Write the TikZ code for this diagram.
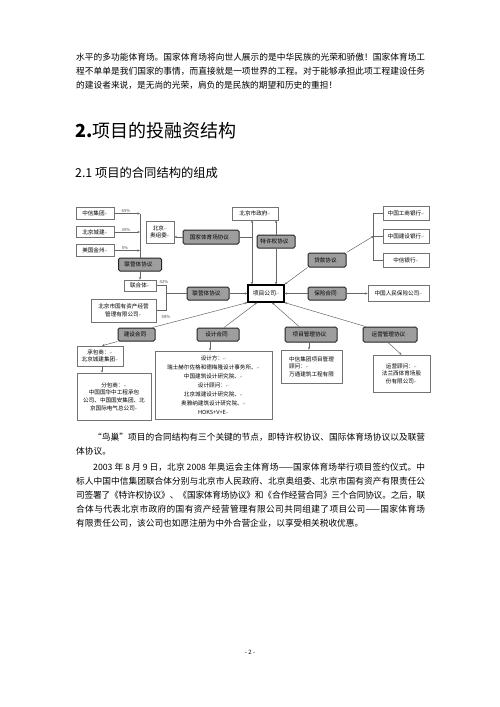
\documentclass[tikz,border=0pt]{standalone}
\usepackage{fontspec}
\setmainfont{Noto Sans CJK SC}
\newfontfamily\dvfont{DejaVu Sans}
\usetikzlibrary{arrows.meta}
\XeTeXlinebreaklocale "zh"
\XeTeXlinebreakskip=0pt plus 1.5pt minus 0.6pt
\newcommand\retmk{{\dvfont\fontsize{3.6}{4}\selectfont\color{black!45}↵}}
\newcommand\jline[2]{\parbox{#1}{\parindent=0pt\parfillskip=0pt\relax #2}}
\begin{document}
\begin{tikzpicture}[x=1pt,y=-1pt,
  wb/.style={draw=black!55, line width=0.6pt, fill=white, inner sep=0.5pt, align=center, font=\fontsize{5.6}{7.6}\selectfont},
  db/.style={draw=black!85, line width=1pt, fill=black!38, rounded corners=1.5pt, inner sep=0.5pt, font=\fontsize{5.6}{7}\selectfont},
  ln/.style={draw=black!60, line width=0.5pt},
  ar/.style={ln, -{Stealth[length=2.6pt,width=2.2pt]}},
  ar2/.style={ln, {Stealth[length=2.6pt,width=2.2pt]}-{Stealth[length=2.6pt,width=2.2pt]}},
  pc/.style={font=\fontsize{4.2}{5}\selectfont, text=black!70, inner sep=0pt},
  body/.style={anchor=west, inner sep=0pt, font=\fontsize{8.7}{10}\selectfont},
]
\useasboundingbox (0,0) rectangle (500,707);
\fill[white] (0,0) rectangle (500,707);

% ---- top paragraph
\node[body] (t1) at (76,57) {\jline{349pt}{水平的多功能体育场。国家体育场将向世人展示的是中华民族的光荣和骄傲！国家体育场工}};
\node[body] (t2) at (76,71) {\jline{349pt}{程不单单是我们国家的事情，而直接就是一项世界的工程。对于能够承担此项工程建设任务}};
\node[body] (t3) at (76,85) {的建设者来说，是无尚的光荣，肩负的是民族的期望和历史的重担！};

% ---- headings
\node[anchor=west, inner sep=0pt, font=\fontsize{18}{20}\selectfont] (h1) at (75,131) {\textbf{2.}项目的投融资结构};
\node[anchor=west, inner sep=0pt, font=\fontsize{12.3}{14}\selectfont] (h2) at (75,173) {2.1 项目的合同结构的组成};

% ---- diagram: left owners
\node[wb, minimum width=38pt, minimum height=11.5pt] (zx) at (95,213.5) {中信集团\retmk};
\node[wb, minimum width=38pt, minimum height=11.5pt] (cj) at (95,232) {北京城建\retmk};
\node[wb, minimum width=38pt, minimum height=11.5pt] (mg) at (95,250.5) {美国金州\retmk};
\coordinate (ja) at (140,213.5);
\coordinate (jb) at (140,232);
\coordinate (jc) at (140,250.5);
\node[db, minimum width=43pt, minimum height=13pt] (jv1) at (140,264.5) {联营体协议\retmk};
\draw[ar] (zx) -- (ja);
\draw[ar] (cj) -- (jb);
\draw[ar] (mg) -- (jc);
\draw[ln] (ja) -- (jv1.north);
\node[pc] (p65) at (126,211) {65\%};
\node[pc] (p30) at (126,229.5) {30\%};
\node[pc] (p5) at (125,248) {5\%};

\node[wb, minimum width=32pt, minimum height=11pt] (lh) at (140,285.5) {联合体\retmk};
\draw[ar] (jv1) -- (lh);
\node[wb, minimum width=65pt, minimum height=23pt] (gz) at (123.5,310.5) {北京市国有资产经营\\管理有限公司\retmk};
\node[pc] (p42) at (164,282) {42\%};
\node[pc] (p58) at (166,316.5) {58\%};
\coordinate (k1) at (166,285.5);
\coordinate (k2) at (166,310.5);
\coordinate (k3) at (166,293.5);
\draw[ln] (lh.east) -- (k1) -- (k2) -- (gz.east);

\node[db, minimum width=42pt, minimum height=13pt] (jv2) at (208,293.5) {联营体协议\retmk};
\node[draw=black, line width=1.2pt, fill=white, inner sep=0.5pt, font=\fontsize{5.8}{7}\selectfont, minimum width=36pt, minimum height=17pt] (xm) at (266,293.5) {项目公司\retmk};
\draw[ln] (k3) -- (jv2.west);
\draw[ar] (jv2) -- (xm);

% ---- top centre
\node[wb, minimum width=28pt, minimum height=22pt] (ay) at (160,232) {北京\retmk\\奥组委\retmk};
\node[db, minimum width=56pt, minimum height=14pt] (gt) at (211,237) {国家体育场协议\retmk};
\draw[ar] (gt.west) -- (gt.west -| ay.east);
\node[wb, minimum width=46pt, minimum height=13pt] (gov) at (255,213.5) {北京市政府\retmk};
\coordinate (g1) at (252,237);
\draw[ln] (gt.east) -- (g1);
\draw[ar2] (gov.south -| g1) -- (xm.north -| g1);
\node[db, minimum width=38pt, minimum height=13pt] (tq) at (276,241.5) {特许权协议\retmk};
\draw[ln, {Stealth[length=2.6pt,width=2.2pt]}-] (gov.south -| tq) -- (tq.north);
\draw[ar] (tq.south) -- (xm.north -| tq);

% ---- banks
\node[wb, minimum width=46pt, minimum height=14pt] (icbc) at (406,213) {中国工商银行\retmk};
\node[wb, minimum width=46pt, minimum height=14pt] (ccb) at (406,236) {中国建设银行\retmk};
\node[wb, minimum width=46pt, minimum height=14pt] (citic) at (406,260) {中信银行\retmk};
\coordinate (bk) at ([xshift=-9pt]ccb.west);
\draw[ln] (icbc.west) -- ++(-9,0) |- (citic.west);
\draw[ln] (ccb.west) -- (bk);
\node[db, minimum width=38pt, minimum height=14pt] (dk) at (327,260) {贷款协议\retmk};
\draw[ar] (dk.north east) -- (bk);
\draw[ar] (dk.south west) -- (xm.north east);

\node[db, minimum width=38pt, minimum height=13pt] (bx) at (327,293.5) {保险合同\retmk};
\node[wb, minimum width=61pt, minimum height=16pt] (rb) at (398.5,293.5) {中国人民保险公司\retmk};
\draw[ar] (bx.west) -- (xm.east);
\draw[ar] (bx.east) -- (rb.west);

% ---- bottom contracts
\node[db, minimum width=37pt, minimum height=13pt] (js) at (136.5,334.5) {建设合同\retmk};
\node[db, minimum width=42pt, minimum height=13pt] (sj) at (218,334.5) {设计合同\retmk};
\node[db, minimum width=52pt, minimum height=15pt] (xg) at (311,334.5) {项目管理协议\retmk};
\node[db, minimum width=54pt, minimum height=15pt] (yy) at (390,334.5) {运营管理协议\retmk};
\draw[ar] ([xshift=-3pt]js.north east) -- (xm.south west);
\draw[ar] ([xshift=6pt]sj.north) -- ([xshift=-9pt]xm.south);
\draw[ar] ([xshift=-12pt]xg.north) -- ([xshift=6pt]xm.south);
\draw[ar] ([xshift=3pt]yy.north west) -- (xm.south east);

\node[wb, minimum width=46pt, minimum height=20pt] (cb) at (100,356) {承包商：\retmk\\北京城建集团\retmk};
\node[wb, minimum width=74pt, minimum height=47pt] (fb) at (114,396.5) {分包商：\retmk\\中国国华中工程承包\\公司、中国国安集团、北\\京国际电气总公司\retmk};
\draw[ar] (js.south west) -- ([xshift=2pt]cb.north);
\draw[ar] ([xshift=2pt]cb.south) -- ([xshift=2pt]cb.south |- fb.north);

\node[wb, minimum width=117pt, minimum height=68pt, font=\fontsize{5.6}{8.9}\selectfont] (sjf) at (213.5,385) {设计方：\retmk\\瑞士赫尔佐格和德梅隆设计事务所、\retmk\\中国建筑设计研究院、\retmk\\设计顾问：\retmk\\北京城建设计研究院、\retmk\\奥雅纳建筑设计研究院、\retmk\\HOKS+V+E\retmk};
\draw[ar] ([xshift=-8pt]sj.south) -- ([xshift=-8pt]sj.south |- sjf.north);

\node[wb, minimum width=61pt, minimum height=33pt, align=left] (gw) at (311.5,366.5) {中信集团项目管理\\顾问：\retmk\\万通建筑工程有限};
\draw[ar] ([xshift=-2pt]xg.south) -- ([xshift=-2pt]xg.south |- gw.north);

\node[wb, minimum width=57pt, minimum height=37pt] (yg) at (401.5,373.5) {运营顾问：\retmk\\法兰西体育场股\\份有限公司\retmk};
\draw[ar] ([xshift=-2pt]yy.south) -- (yg.north);

% ---- lower paragraph
\node[body] (b1) at (93,437) {\jline{332pt}{“鸟巢”项目的合同结构有三个关键的节点，即特许权协议、国际体育场协议以及联营}};
\node[body] (b2) at (76,451) {体协议。};
\node[body] (b3) at (93,467) {\jline{332pt}{2003 年 8 月 9 日，北京 2008 年奥运会主体育场——国家体育场举行项目签约仪式。中}};
\node[body] (b4) at (76,481) {\jline{349pt}{标人中国中信集团联合体分别与北京市人民政府、北京奥组委、北京市国有资产有限责任公}};
\node[body] (b5) at (76,495) {\jline{349pt}{司签署了《特许权协议》、《国家体育场协议》和《合作经营合同》三个合同协议。之后，联}};
\node[body] (b6) at (76,509) {\jline{349pt}{合体与代表北京市政府的国有资产经营管理有限公司共同组建了项目公司——国家体育场}};
\node[body] (b7) at (76,523) {有限责任公司，该公司也如愿注册为中外合营企业，以享受相关税收优惠。};

\node[inner sep=0pt, font=\fontsize{6}{7}\selectfont] (pg) at (250,652) {- 2 -};
\end{tikzpicture}
\end{document}
